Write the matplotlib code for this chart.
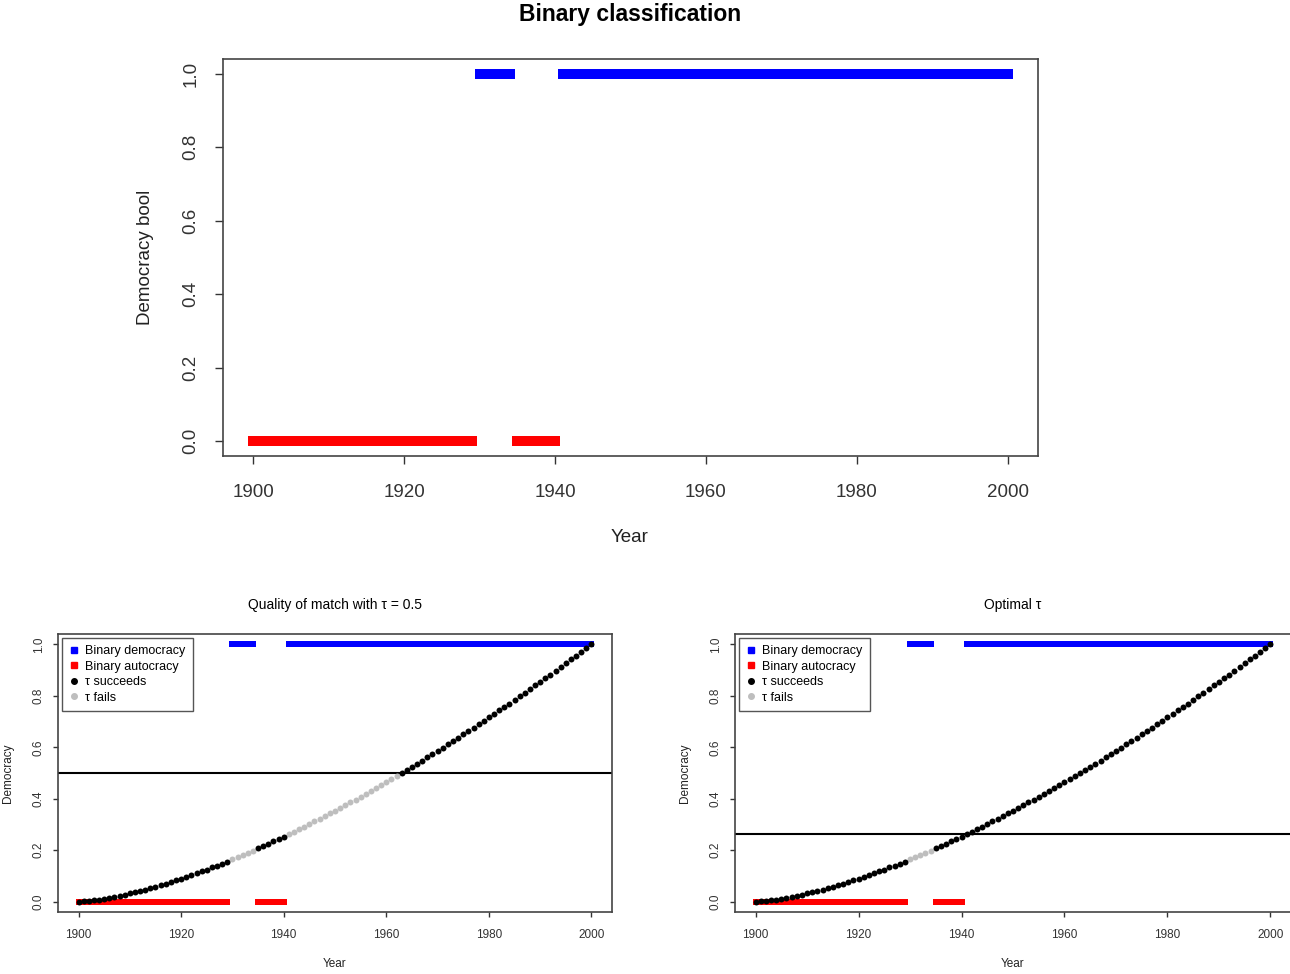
import matplotlib
matplotlib.use("Agg")
import matplotlib.pyplot as plt
from matplotlib.lines import Line2D
import numpy as np

plt.rcParams['font.family'] = ['Liberation Sans', 'DejaVu Sans']

# data
years = list(range(1900, 2001))
democracy = [
    0.000, 0.001, 0.003, 0.005, 0.008, 0.011, 0.015, 0.019, 0.023, 0.027,
    0.032, 0.036, 0.042, 0.047, 0.052, 0.058, 0.064, 0.070, 0.076, 0.083,
    0.089, 0.096, 0.103, 0.110, 0.118, 0.125, 0.133, 0.140, 0.148, 0.156,
    0.164, 0.173, 0.181, 0.190, 0.198, 0.207, 0.216, 0.225, 0.234, 0.244,
    0.253, 0.263, 0.272, 0.282, 0.292, 0.302, 0.312, 0.322, 0.333, 0.343,
    0.354, 0.364, 0.375, 0.386, 0.397, 0.408, 0.419, 0.430, 0.442, 0.453,
    0.465, 0.476, 0.488, 0.500, 0.512, 0.524, 0.536, 0.548, 0.561, 0.573,
    0.586, 0.598, 0.611, 0.624, 0.637, 0.650, 0.663, 0.676, 0.689, 0.702,
    0.716, 0.729, 0.743, 0.756, 0.770, 0.784, 0.798, 0.811, 0.826, 0.840,
    0.854, 0.868, 0.882, 0.897, 0.911, 0.926, 0.941, 0.955, 0.970, 0.985,
    1.000,
]
democracy_periods = [(1930, 1934), (1941, 2000)]
autocracy_periods = [(1900, 1929), (1935, 1940)]
tau_left = 0.5
tau_right = 0.262

binary = [0] * len(years)
for start, end in democracy_periods:
    for i, y in enumerate(years):
        if start <= y <= end:
            binary[i] = 1

years_a = np.array(years)
dem_a = np.array(democracy)
bin_a = np.array(binary)

W, H = 1290, 974
fig = plt.figure(figsize=(W / 100, H / 100), dpi=100)


def px_axes(left, right, top, bottom):
    return fig.add_axes([left / W, 1 - bottom / H, (right - left) / W, (bottom - top) / H])


def style_axes(ax, fs, tick_len, xpad, ypad):
    ax.set_xlim(1896, 2004)
    ax.set_ylim(-0.04, 1.04)
    ax.set_xticks([1900, 1920, 1940, 1960, 1980, 2000])
    ax.set_yticks([0.0, 0.2, 0.4, 0.6, 0.8, 1.0])
    ax.set_yticklabels(['0.0', '0.2', '0.4', '0.6', '0.8', '1.0'], rotation=90, va='center')
    ax.tick_params(labelsize=fs, length=tick_len, colors='#333333', width=1)
    ax.tick_params(axis='x', pad=xpad)
    ax.tick_params(axis='y', pad=ypad)
    for s in ax.spines.values():
        s.set_color('#444444')
        s.set_linewidth(1.2)


# top panel
ax = px_axes(223, 1038, 59, 456)
style_axes(ax, 13.5, 6, 14, 11)
ax.plot(years_a[bin_a == 1], bin_a[bin_a == 1], 's', color='blue', markersize=6.5, markeredgewidth=0)
ax.plot(years_a[bin_a == 0], bin_a[bin_a == 0], 's', color='red', markersize=6.5, markeredgewidth=0)
fig.text(630 / W, 1 - 14 / H, 'Binary classification', ha='center', va='center',
         fontsize=16.5, fontweight='bold')
fig.text(630 / W, 1 - 538 / H, 'Year', ha='center', va='center', fontsize=13.5, color='#222222')
fig.text(145 / W, 1 - 257 / H, 'Democracy bool', ha='center', va='center', rotation=90,
         fontsize=13.5, color='#222222')


def bottom_panel(left, right, tau, title, ylab_x):
    ax = px_axes(left, right, 634, 912)
    style_axes(ax, 8.5, 3.6, 9, 6)
    ax.plot(years_a[bin_a == 1], bin_a[bin_a == 1], 's', color='blue', markersize=4.5, markeredgewidth=0)
    ax.plot(years_a[bin_a == 0], bin_a[bin_a == 0], 's', color='red', markersize=4.5, markeredgewidth=0)
    ax.axhline(tau, color='black', linewidth=1.5)
    ok = (dem_a >= tau).astype(int) == bin_a
    ax.plot(years_a[~ok], dem_a[~ok], 'o', color='#BEBEBE', markersize=4.3, markeredgewidth=0)
    ax.plot(years_a[ok], dem_a[ok], 'o', color='black', markersize=4.3, markeredgewidth=0)
    handles = [
        Line2D([], [], marker='s', color='blue', linestyle='none', markersize=4),
        Line2D([], [], marker='s', color='red', linestyle='none', markersize=4),
        Line2D([], [], marker='o', color='black', linestyle='none', markersize=4),
        Line2D([], [], marker='o', color='#BEBEBE', linestyle='none', markersize=4),
    ]
    leg = ax.legend(handles, ['Binary democracy', 'Binary autocracy', 'τ succeeds', 'τ fails'],
                    loc='upper left', fontsize=9, fancybox=False, framealpha=1,
                    edgecolor='#555555', labelspacing=0.28, handlelength=0.8,
                    handletextpad=0.45, borderpad=0.6, borderaxespad=0.3)
    leg.get_frame().set_linewidth(1.0)
    cx = (left + right) / 2
    fig.text(cx / W, 1 - 605 / H, title, ha='center', va='center', fontsize=10)
    fig.text(cx / W, 1 - 964 / H, 'Year', ha='center', va='center', fontsize=8.5, color='#222222')
    fig.text(ylab_x / W, 1 - 773 / H, 'Democracy', ha='center', va='center', rotation=90,
             fontsize=8.5, color='#222222')


bottom_panel(58, 612, tau_left, 'Quality of match with τ = 0.5', 8)
bottom_panel(735, 1291, tau_right, 'Optimal τ', 685)

fig.savefig('out.png', dpi=100)
